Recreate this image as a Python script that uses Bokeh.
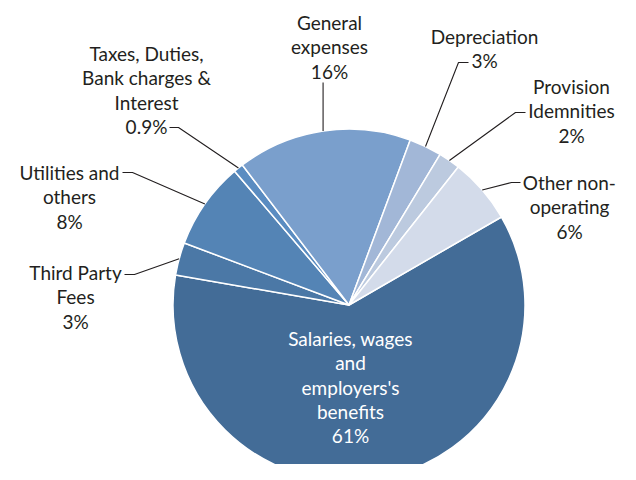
import math
from bokeh.plotting import figure
from bokeh.models import Range1d
from bokeh.core.properties import value
from bokeh.embed import file_html
from bokeh.resources import INLINE

# ---- data (clockwise order starting from the right side) ----
categories = ["Salaries, wages and employers's benefits", "Third Party Fees",
              "Utilities and others", "Taxes, Duties, Bank charges & Interest",
              "General expenses", "Depreciation", "Provision Idemnities",
              "Other non-operating"]
values = [61, 3, 8, 0.9, 16, 3, 2, 6]
pct_labels = ["61%", "3%", "8%", "0.9%", "16%", "3%", "2%", "6%"]
label_lines = [
    ["Salaries, wages", "and", "employers's", "benefits"],
    ["Third Party", "Fees"],
    ["Utilities and", "others"],
    ["Taxes, Duties,", "Bank charges &", "Interest"],
    ["General", "expenses"],
    ["Depreciation"],
    ["Provision", "Idemnities"],
    ["Other non-", "operating"],
]
colors = ["#436c97", "#4b78a6", "#5484b5", "#5a8cc1", "#7a9fcc", "#a2b7d7", "#bccadf", "#d3dbea"]

# ---- layout (screen pixel coordinates) ----
W, H = 620, 464
OFF = 0
CX, CY, R = 348.5, 304.5, 176
START_DEG = 30.0
FONT = "Lato"
FS = "19px"
TXT = "#231f20"
# label block: center x, first-line y
label_pos = [(350, 338), (75, 272), (69, 172), (146, 53), (329, 22), (484, 36), (571, 86), (569, 182)]
LSP = 24.3
# leader: (text-side x, y, elbow x)  None for inside label; General is vertical
leaders = [None, (124, 274, 134), (122, 172, 132), (169, 127, 178), "vertical",
           (468, 62, 458), (525, 112, 515), (520, 182, 511)]


def dx(x):
    return x - OFF


def dy(y):
    return H - (y - OFF)


p = figure(width=W, height=H, output_backend="svg", toolbar_location=None,
           x_range=Range1d(0, W), y_range=Range1d(0, H), min_border=0)
p.axis.visible = False
p.grid.visible = False
p.outline_line_color = None
p.background_fill_color = "white"

total = sum(values)
cum = 0.0
starts, ends, mids = [], [], []
for v in values:
    a_end = math.radians(START_DEG - cum * 360 / total)
    cum += v
    a_start = math.radians(START_DEG - cum * 360 / total)
    starts.append(a_start)
    ends.append(a_end)
    mids.append((a_start + a_end) / 2)

p.wedge(x=[dx(CX)] * len(values), y=[dy(CY)] * len(values), radius=R,
        start_angle=starts, end_angle=ends, direction="anticlock",
        fill_color=colors, line_color="white", line_width=1.5)

# leaders
for i, ld in enumerate(leaders):
    if ld is None:
        continue
    ex = CX + R * math.cos(mids[i])
    ey = CY - R * math.sin(mids[i])
    if ld == "vertical":
        xs = [dx(ex), dx(ex)]
        ys = [dy(82), dy(ey)]
    else:
        tx, ty, elx = ld
        xs = [dx(tx), dx(elx), dx(ex)]
        ys = [dy(ty), dy(ty), dy(ey)]
    p.line(xs, ys, line_color="#231f20", line_width=1.1)

# labels
for i, lines in enumerate(label_lines):
    lx, ly = label_pos[i]
    all_lines = lines + [pct_labels[i]]
    col = "white" if i == 0 else TXT
    xs = [dx(lx)] * len(all_lines)
    ys = [dy(ly + k * LSP) for k in range(len(all_lines))]
    p.text(x=xs, y=ys, text=all_lines, text_align="center", text_baseline="middle",
           text_font=value(FONT), text_font_size=FS, text_color=col)

open("out.html", "w").write(file_html(p, INLINE))
